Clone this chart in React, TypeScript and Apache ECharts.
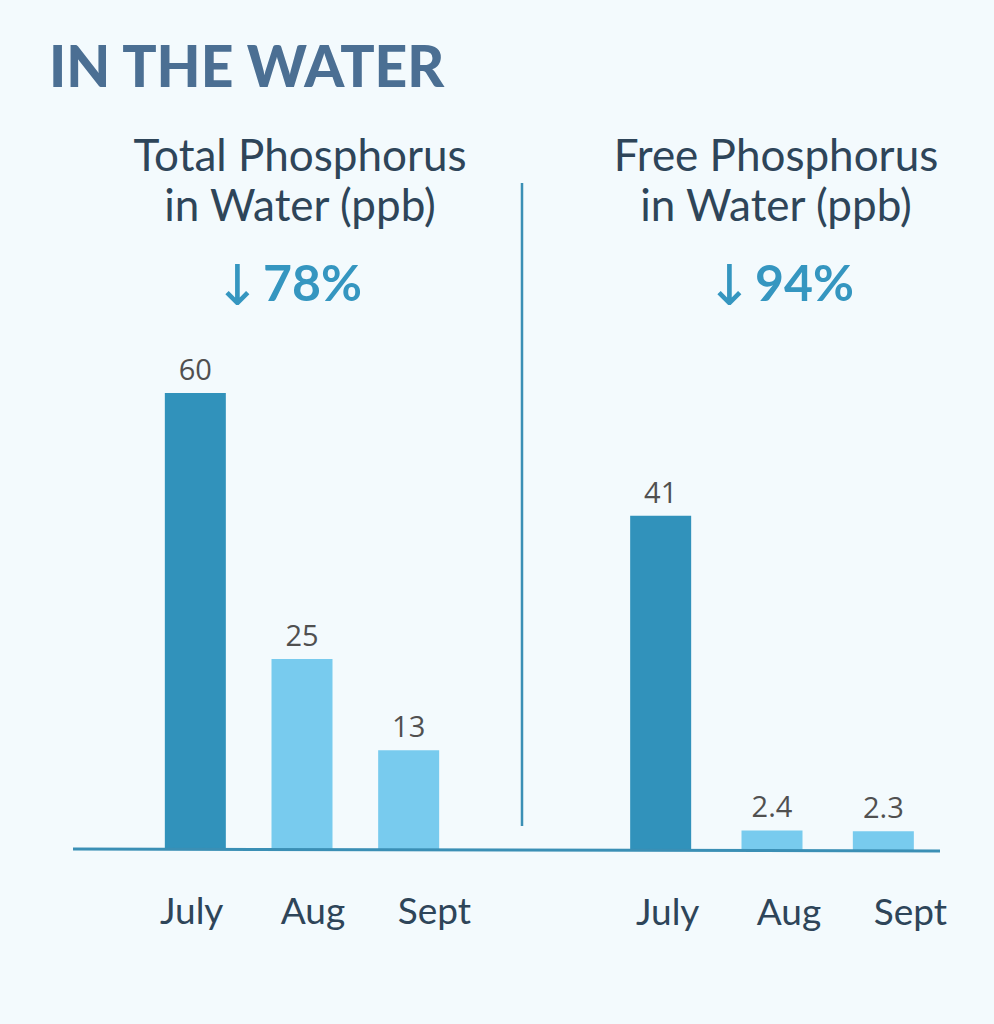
import React, { useEffect, useRef } from "react";
import * as echarts from "echarts";

const categories = ["July", "Aug", "Sept"];
const totalPhosphorus = [60, 25, 13];
const freePhosphorus = [41, 2.4, 2.3];
const leftHeading = "Total Phosphorus\nin Water (ppb)";
const rightHeading = "Free Phosphorus\nin Water (ppb)";
const leftChange = "78%";
const rightChange = "94%";
const pageTitle = "IN THE WATER";

const DARK = "#3192bb";
const LIGHT = "#78cbee";
const LINE = "#3a8fb5";
const TEXT = "#2e4559";
const ACCENT = "#3596c0";

export default function App() {
  const ref = useRef<HTMLDivElement>(null);
  useEffect(() => {
    if (!ref.current) return;
    const chart = echarts.init(ref.current, null, { renderer: "svg" });
    const barColor = (p: any) => (p.dataIndex === 0 ? DARK : LIGHT);
    const valueLabel = {
      show: true,
      position: "top",
      distance: 10,
      fontSize: 29,
      color: "#505050",
      fontFamily: "Open Sans",
    };
    const catLabel = {
      show: true,
      fontSize: 37,
      color: TEXT,
      fontFamily: "Lato",
      margin: 13,
    };
    const changeRich = {
      a: { fontSize: 56, fontFamily: "DejaVu Sans", color: ACCENT, fontWeight: "normal", padding: [6, 2, 0, 0] },
      b: { fontSize: 50, fontFamily: "Lato", fontWeight: "bold", color: ACCENT },
    };
    chart.setOption({
      animation: false,
      backgroundColor: "#f3fafd",
      title: [
        {
          text: pageTitle,
          left: 44,
          top: 31,
          textStyle: { fontSize: 57, fontWeight: 900, fontFamily: "Lato", color: "#4b6f93" },
        },
        {
          text: leftHeading,
          left: 295,
          top: 124,
          textAlign: "center",
          textStyle: { fontSize: 44, lineHeight: 50, fontWeight: "normal", fontFamily: "Lato", color: TEXT },
        },
        {
          text: rightHeading,
          left: 771,
          top: 124,
          textAlign: "center",
          textStyle: { fontSize: 44, lineHeight: 50, fontWeight: "normal", fontFamily: "Lato", color: TEXT },
        },
        {
          text: "{a|↓}{b|" + leftChange + "}",
          left: 283,
          top: 246,
          textAlign: "center",
          textStyle: { rich: changeRich },
        },
        {
          text: "{a|↓}{b|" + rightChange + "}",
          left: 775,
          top: 246,
          textAlign: "center",
          textStyle: { rich: changeRich },
        },
      ],
      grid: [
        { left: 142, top: 393, width: 320, height: 456 },
        { left: 605, top: 850 - 489, width: 334, height: 489 },
        { left: 131, top: 500, width: 364, height: 378 },
        { left: 607, top: 500, width: 364, height: 379 },
      ],
      xAxis: [
        { type: "category", gridIndex: 0, data: categories, axisLine: { show: false }, axisTick: { show: false }, axisLabel: { show: false } },
        { type: "category", gridIndex: 1, data: categories, axisLine: { show: false }, axisTick: { show: false }, axisLabel: { show: false } },
        { type: "category", gridIndex: 2, data: categories, axisLine: { show: false }, axisTick: { show: false }, axisLabel: catLabel },
        { type: "category", gridIndex: 3, data: categories, axisLine: { show: false }, axisTick: { show: false }, axisLabel: catLabel },
      ],
      yAxis: [
        { type: "value", gridIndex: 0, min: 0, max: 60, show: false },
        { type: "value", gridIndex: 1, min: 0, max: 60, show: false },
        { type: "value", gridIndex: 2, min: 0, max: 1, show: false },
        { type: "value", gridIndex: 3, min: 0, max: 1, show: false },
      ],
      series: [
        {
          type: "bar",
          xAxisIndex: 0,
          yAxisIndex: 0,
          data: totalPhosphorus,
          barWidth: 61,
          itemStyle: { color: barColor },
          label: valueLabel,
        },
        {
          type: "bar",
          xAxisIndex: 1,
          yAxisIndex: 1,
          data: freePhosphorus,
          barWidth: 61,
          itemStyle: { color: barColor },
          label: valueLabel,
        },
      ],
      graphic: [
        {
          type: "line",
          shape: { x1: 522, y1: 183, x2: 522, y2: 826 },
          style: { stroke: LINE, lineWidth: 2.5 },
        },
        {
          type: "line",
          z: 10,
          shape: { x1: 73, y1: 849, x2: 940, y2: 851 },
          style: { stroke: LINE, lineWidth: 3 },
        },
      ],
    });
    return () => chart.dispose();
  }, []);
  return (
    <div
      ref={ref}
      style={{ position: "absolute", left: 0, top: 0, width: 994, height: 1024 }}
    />
  );
}
